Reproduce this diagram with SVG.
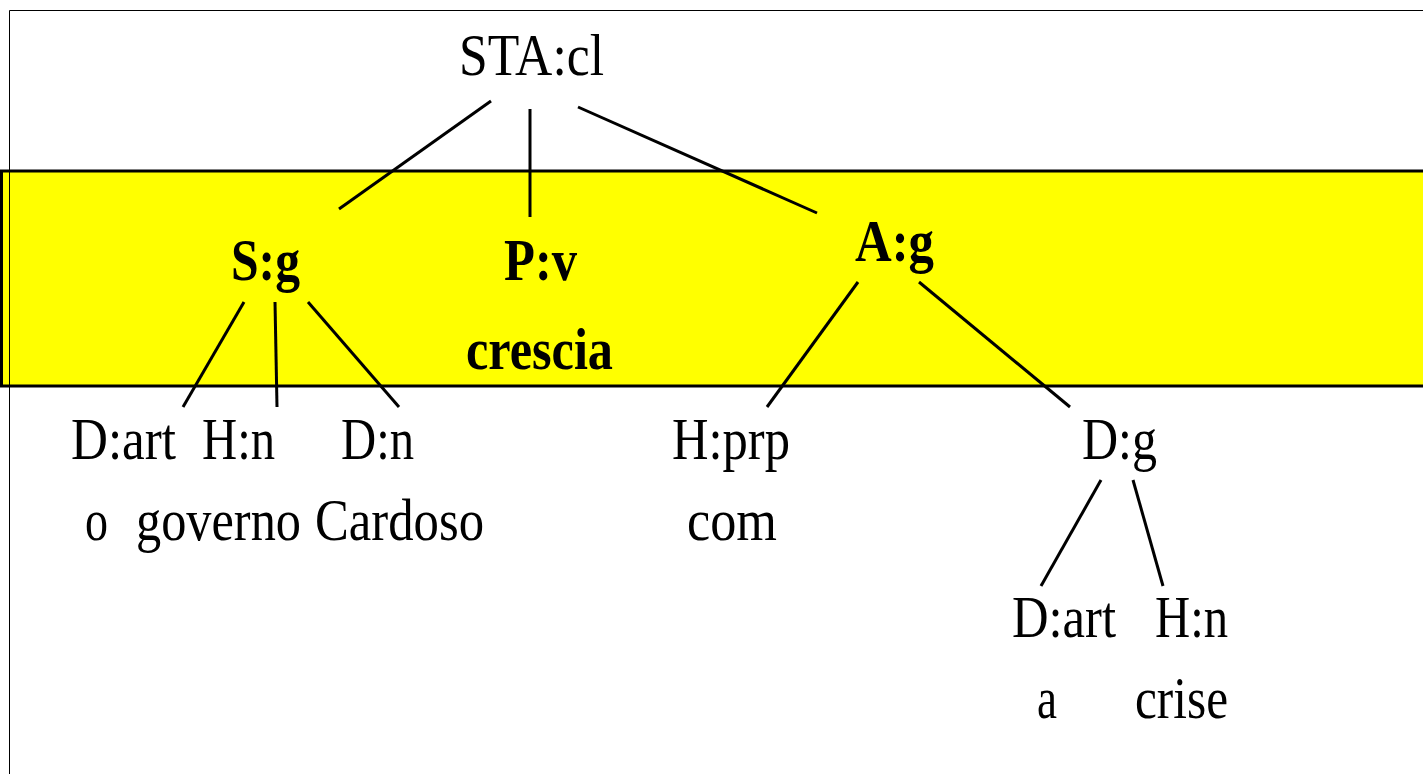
<svg xmlns="http://www.w3.org/2000/svg" width="1423" height="774" viewBox="0 0 1423 774">
<style>
  text { font-family: "Liberation Serif", "Times New Roman", serif; font-size: 60px; fill: #000; }
  .b { font-weight: bold; }
  .conn line { stroke: #000; stroke-width: 3; stroke-linecap: butt; }
  .frame { stroke: #000; stroke-width: 1; fill: none; }
</style>
<rect x="0" y="0" width="1423" height="774" fill="#fff"/>
<rect id="band" x="1.5" y="171" width="1430" height="215" fill="#ffff00" stroke="#000" stroke-width="3"/>
<path class="frame" d="M9.5 774 V10.5 H1423"/>
<g id="connectors" class="conn">
  <line x1="491" y1="101" x2="339" y2="209"/>
  <line x1="530" y1="109" x2="530" y2="217"/>
  <line x1="578" y1="107" x2="817" y2="213"/>
  <line x1="244" y1="302" x2="183" y2="407"/>
  <line x1="275" y1="302" x2="277" y2="407"/>
  <line x1="308" y1="302" x2="399" y2="407"/>
  <line x1="858" y1="282" x2="767" y2="407"/>
  <line x1="919" y1="282" x2="1070" y2="407"/>
  <line x1="1101" y1="480" x2="1041" y2="586"/>
  <line x1="1133" y1="480" x2="1163" y2="586"/>
</g>
<g id="n-sta"><text x="459" y="75" textLength="145" lengthAdjust="spacingAndGlyphs">STA:cl</text></g>
<g id="n-s"><text class="b" x="231" y="280" textLength="69" lengthAdjust="spacingAndGlyphs">S:g</text></g>
<g id="n-p"><text class="b" x="504" y="280" textLength="73" lengthAdjust="spacingAndGlyphs">P:v</text><text class="b" x="466" y="369" textLength="147" lengthAdjust="spacingAndGlyphs">crescia</text></g>
<g id="n-a"><text class="b" x="855" y="261" textLength="79" lengthAdjust="spacingAndGlyphs">A:g</text></g>
<g id="n-dart1"><text x="71" y="459" textLength="105" lengthAdjust="spacingAndGlyphs">D:art</text><text x="85" y="540" textLength="23" lengthAdjust="spacingAndGlyphs">o</text></g>
<g id="n-hn1"><text x="202" y="459" textLength="73" lengthAdjust="spacingAndGlyphs">H:n</text><text x="136" y="540" textLength="165" lengthAdjust="spacingAndGlyphs">governo</text></g>
<g id="n-dn"><text x="341" y="459" textLength="73" lengthAdjust="spacingAndGlyphs">D:n</text><text x="315" y="540" textLength="169" lengthAdjust="spacingAndGlyphs">Cardoso</text></g>
<g id="n-hprp"><text x="672" y="459" textLength="118" lengthAdjust="spacingAndGlyphs">H:prp</text><text x="687" y="540" textLength="90" lengthAdjust="spacingAndGlyphs">com</text></g>
<g id="n-dg"><text x="1082" y="459" textLength="75" lengthAdjust="spacingAndGlyphs">D:g</text></g>
<g id="n-dart2"><text x="1012" y="637" textLength="104" lengthAdjust="spacingAndGlyphs">D:art</text><text x="1037" y="718" textLength="20" lengthAdjust="spacingAndGlyphs">a</text></g>
<g id="n-hn2"><text x="1155" y="637" textLength="73" lengthAdjust="spacingAndGlyphs">H:n</text><text x="1135" y="718" textLength="93" lengthAdjust="spacingAndGlyphs">crise</text></g>
</svg>
